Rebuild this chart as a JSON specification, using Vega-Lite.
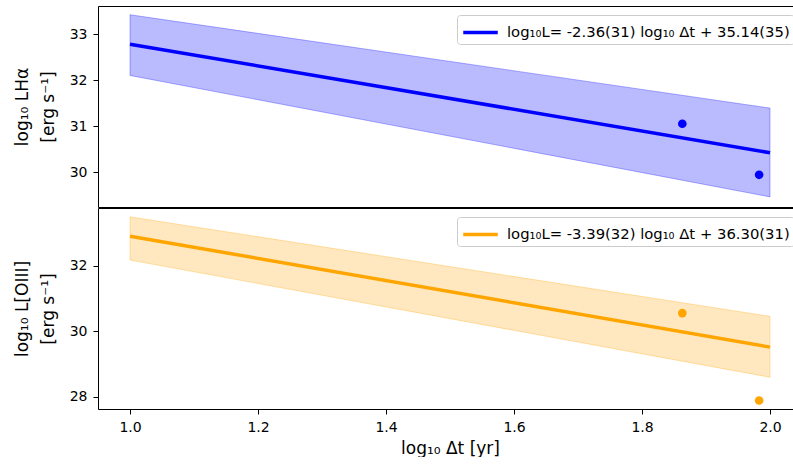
{
  "$schema": "https://vega.github.io/schema/vega-lite/v6.json",
  "padding": {"left": 12, "top": 5, "right": 0, "bottom": 0},
  "background": "white",
  "config": {
    "font": "DejaVu Sans",
    "view": {"stroke": "black", "strokeWidth": 1},
    "axis": {"grid": false, "domain": false, "labelFontSize": 14, "titleFontSize": 17, "titleFontWeight": "normal", "tickSize": 5, "tickColor": "black", "labelColor": "black", "titleColor": "black", "labelPadding": 6},
    "legend": {"orient": "top-right", "offset": 8.5, "fillColor": "white", "strokeColor": "#cccccc", "cornerRadius": 3, "padding": 4, "labelFontSize": 14.8, "labelLimit": 500, "symbolType": "M-1.5,0H1.5", "symbolSize": 529, "symbolOffset": 6, "labelOffset": 13, "symbolStrokeWidth": 3.5, "title": null, "labelColor": "black"}
  },
  "spacing": -1,
  "resolve": {"scale": {"color": "independent", "y": "independent"}, "legend": {"color": "independent"}},
  "vconcat": [
    {
      "width": 704,
      "height": 201,
      "layer": [
        {
          "data": {"values": [{"x": 1.0, "lo": 32.10, "hi": 33.42}, {"x": 2.0, "lo": 29.46, "hi": 31.39}]},
          "mark": {"type": "area", "color": "#0000ff", "fillOpacity": 0.27, "stroke": "#0000ff", "strokeOpacity": 0.3, "strokeWidth": 1},
          "encoding": {
            "x": {"field": "x", "type": "quantitative", "scale": {"domain": [0.95, 2.05], "nice": false, "zero": false}, "axis": null},
            "y": {"field": "lo", "type": "quantitative", "scale": {"domain": [29.24, 33.61], "nice": false, "zero": false}, "axis": {"values": [30, 31, 32, 33], "title": ["log₁₀ LHα", "[erg s⁻¹]"], "titleLineHeight": 26, "titlePadding": 12}},
            "y2": {"field": "hi"}
          }
        },
        {
          "data": {"values": [{"x": 1.0, "y": 32.78, "label": "log₁₀L= -2.36(31) log₁₀ Δt + 35.14(35)"}, {"x": 2.0, "y": 30.42, "label": "log₁₀L= -2.36(31) log₁₀ Δt + 35.14(35)"}]},
          "mark": {"type": "line", "strokeWidth": 3.5},
          "encoding": {
            "x": {"field": "x", "type": "quantitative"},
            "y": {"field": "y", "type": "quantitative"},
            "color": {"field": "label", "type": "nominal", "scale": {"range": ["#0000ff"]}}
          }
        },
        {
          "data": {"values": [{"x": 1.863, "y": 31.05}, {"x": 1.983, "y": 29.94}]},
          "mark": {"type": "point", "filled": true, "opacity": 1, "color": "#0000ff", "size": 75},
          "encoding": {
            "x": {"field": "x", "type": "quantitative"},
            "y": {"field": "y", "type": "quantitative"}
          }
        }
      ]
    },
    {
      "width": 704,
      "height": 201,
      "layer": [
        {
          "data": {"values": [{"x": 1.0, "lo": 32.18, "hi": 33.50}, {"x": 2.0, "lo": 28.60, "hi": 30.46}]},
          "mark": {"type": "area", "color": "#ffa500", "fillOpacity": 0.25, "stroke": "#ffa500", "strokeOpacity": 0.3, "strokeWidth": 1},
          "encoding": {
            "x": {"field": "x", "type": "quantitative", "scale": {"domain": [0.95, 2.05], "nice": false, "zero": false}, "axis": {"values": [1.0, 1.2, 1.4, 1.6, 1.8, 2.0], "format": ".1f", "title": "log₁₀ Δt [yr]", "titlePadding": 6}},
            "y": {"field": "lo", "type": "quantitative", "scale": {"domain": [27.63, 33.77], "nice": false, "zero": false}, "axis": {"values": [28, 30, 32], "title": ["log₁₀ L[OIII]", "[erg s⁻¹]"], "titleLineHeight": 26, "titlePadding": 12}},
            "y2": {"field": "hi"}
          }
        },
        {
          "data": {"values": [{"x": 1.0, "y": 32.91, "label": "log₁₀L= -3.39(32) log₁₀ Δt + 36.30(31)"}, {"x": 2.0, "y": 29.52, "label": "log₁₀L= -3.39(32) log₁₀ Δt + 36.30(31)"}]},
          "mark": {"type": "line", "strokeWidth": 3.5},
          "encoding": {
            "x": {"field": "x", "type": "quantitative"},
            "y": {"field": "y", "type": "quantitative"},
            "color": {"field": "label", "type": "nominal", "scale": {"range": ["#ffa500"]}}
          }
        },
        {
          "data": {"values": [{"x": 1.863, "y": 30.56}, {"x": 1.983, "y": 27.89}]},
          "mark": {"type": "point", "filled": true, "opacity": 1, "color": "#ffa500", "size": 75},
          "encoding": {
            "x": {"field": "x", "type": "quantitative"},
            "y": {"field": "y", "type": "quantitative"}
          }
        }
      ]
    }
  ]
}
